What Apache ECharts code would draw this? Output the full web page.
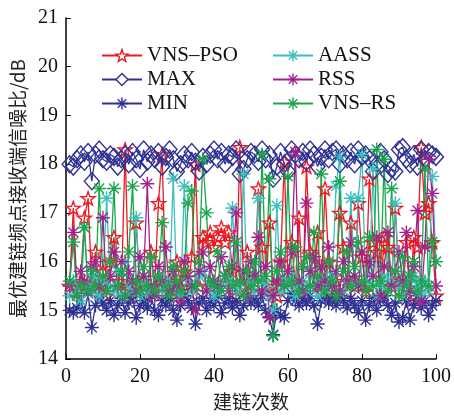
<!DOCTYPE html>
<html><head><meta charset="utf-8">
<script src="https://cdn.jsdelivr.net/npm/echarts@6/dist/echarts.min.js"></script>
<style>html,body{margin:0;padding:0;background:#fff}#c{width:454px;height:416px}</style>
</head><body><div id="c"></div>
<script>
const xValues = Array.from({length:100},(_,i)=>i+1);
const seriesNames = ['VNS–PSO','MAX','MIN','AASS','RSS','VNS–RS'];
const vnsPso = [15.5,17.1,15.4,15.6,16.9,17.3,15.5,16.2,15.4,15.8, 15.3,16.0,16.5,15.6,15.4,18.3,15.5,15.3,16.8,15.4, 15.6,15.3,16.2,15.5,17.2,18.2,15.4,15.6,15.3,16.0, 15.5,15.8,15.4,16.1,18.0,15.5,16.5,16.4,16.6,16.3, 16.5,16.7,16.4,16.6,15.8,15.3,18.35,15.5,16.2,15.4, 15.6,17.5,16.3,15.4,16.8,15.5,15.3,16.0,18.05,15.6, 16.4,15.5,16.9,15.3,17.95,16.2,15.5,16.6,15.4,17.5, 16.0,15.3,15.6,17.0,16.3,15.4,16.8,15.5,17.2,16.1, 15.4,17.7,16.4,16.2,15.3,16.5,16.3,15.5,17.1,15.6, 15.3,16.4,15.2,16.5,16.3,18.35,17.0,17.2,16.4,15.3];
const maxVals = [18.0,17.95,18.1,18.2,18.05,18.25,17.65,18.2,18.3,18.1, 18.05,18.2,18.15,17.95,18.1,18.2,18.0,18.25,18.1,17.9, 18.3,18.05,18.2,18.1,18.25,17.95,18.15,18.3,18.1,17.85, 18.0,18.2,18.1,18.25,18.05,17.85,18.15,18.0,18.2,18.3, 18.1,18.25,18.0,18.2,18.15,18.3,17.8,17.9,18.1,18.25, 18.2,18.05,18.3,18.1,18.2,17.7,17.95,18.25,18.0,17.85, 18.3,18.2,18.1,18.25,18.05,18.3,18.2,17.95,18.15,18.3, 18.1,18.25,18.3,18.0,18.2,18.1,18.25,18.0,18.3,18.15, 18.2,18.1,17.85,18.0,18.25,18.1,17.8,17.9,17.85,18.3, 18.35,18.1,18.0,18.2,17.95,18.3,18.1,18.25,18.2,18.15];
const minVals = [15.0,14.95,15.05,15.2,14.95,15.35,14.65,15.1,15.3,15.15, 15.0,15.2,14.9,15.1,15.25,14.95,15.15,15.3,14.85,15.1, 15.2,15.05,15.3,15.0,14.9,15.2,15.1,15.25,15.0,14.8, 15.1,15.3,15.2,15.05,14.72,15.15,15.25,15.0,15.2,15.1, 15.3,14.95,15.15,15.25,15.05,15.2,14.9,15.1,15.3,15.15, 15.25,15.1,15.3,15.0,14.85,14.5,15.0,14.9,14.85,15.2, 15.35,15.2,15.1,15.25,15.15,15.3,15.1,14.72,15.2,15.3, 15.15,15.25,15.1,15.3,15.2,15.05,15.25,15.1,14.95,15.2, 14.8,15.1,15.25,15.0,15.2,15.3,15.1,14.9,15.15,14.76, 14.85,15.2,14.8,15.1,15.3,15.05,15.2,14.9,15.1,15.2];
const aass = [15.3,15.6,15.4,15.2,16.7,15.5,15.4,15.7,15.3,15.6, 17.3,15.5,15.4,15.8,15.3,16.0,15.5,15.4,16.9,15.3, 15.6,15.4,15.5,15.3,15.7,15.4,15.6,15.5,17.7,15.4, 15.3,17.55,15.6,15.4,15.5,15.7,15.8,15.4,15.6,15.3, 15.5,15.4,15.7,15.6,17.1,15.4,15.5,17.8,15.3,15.6, 15.4,17.3,15.6,15.5,15.3,15.0,17.15,15.4,15.6,15.5, 15.7,15.3,15.5,15.6,15.4,15.8,15.5,15.3,15.6,15.4, 15.5,15.7,17.55,18.15,15.4,15.6,17.3,15.5,17.3,18.2, 15.4,15.6,17.9,15.3,15.5,15.7,15.4,15.6,17.2,15.5, 15.3,15.6,15.4,15.7,15.5,15.3,15.6,15.4,17.75,16.0];
const rss = [15.5,16.6,15.3,15.8,15.6,15.4,15.9,16.0,15.5,16.9, 15.4,15.7,16.2,15.5,16.0,15.3,15.8,15.6,15.4,16.1, 15.7,17.6,15.5,15.3,15.9,15.6,16.3,15.4,15.8,15.5, 15.2,16.0,15.7,15.5,15.0,15.8,16.2,15.4,15.9,15.6, 15.5,16.1,15.7,15.4,15.9,17.0,15.6,15.8,15.3,16.0, 15.7,16.5,15.4,15.9,14.87,15.3,15.6,16.0,15.5,15.8, 16.2,18.25,15.6,15.4,17.2,15.8,16.1,15.5,15.9,15.6, 16.3,15.5,15.8,15.4,16.0,15.6,16.4,15.7,15.5,16.2, 15.4,16.0,15.7,16.5,15.3,15.9,16.6,15.5,15.8,16.2, 15.6,16.6,15.4,15.9,17.05,15.2,16.3,18.1,17.4,15.5];
const vnsRs = [15.6,16.4,15.3,15.5,16.7,15.4,15.8,15.5,17.5,15.7, 15.4,16.0,17.5,15.5,15.8,15.3,16.2,17.55,15.6,15.4, 15.9,15.5,16.1,15.4,15.7,16.8,15.5,15.3,15.9,15.6, 15.4,15.8,17.2,17.45,15.5,16.0,18.1,17.0,15.6,15.5, 16.2,15.4,15.7,15.9,15.5,16.4,15.6,15.3,15.8,15.5, 16.0,15.6,18.2,15.7,17.7,14.48,15.8,16.2,15.5,17.75, 15.6,16.3,15.4,15.9,16.1,15.5,16.6,15.7,17.8,15.4, 16.0,15.6,15.3,17.65,15.8,16.2,15.5,15.9,16.4,15.6, 15.4,16.5,15.5,18.3,15.6,18.1,15.4,17.5,15.8,15.3, 16.1,15.5,15.7,16.0,15.4,15.6,17.9,15.5,16.4,16.0];
const xTicks = [0,20,40,60,80,100];
const yTicks = [14,15,16,17,18,19,20,21];

const STAR = 'path://M0,-10L2.35,-3.24L9.51,-3.09L3.8,1.24L5.88,8.09L0,4L-5.88,8.09L-3.8,1.24L-9.51,-3.09L-2.35,-3.24Z';
const AST = 'path://M0,-10L0,10M-10,0L10,0M-7.07,-7.07L7.07,7.07M-7.07,7.07L7.07,-7.07';
const SERIF = '"Liberation Serif","DejaVu Serif",serif';
const CJK = '"Noto Sans CJK SC",sans-serif';
const CLEAR = 'rgba(0,0,0,0)';

const colors = {red:'#f01820', blue:'#2e3192', cyan:'#3bbfbf', mag:'#a3218e', green:'#1aa64a'};
const seriesColors = [colors.red, colors.blue, colors.blue, colors.cyan, colors.mag, colors.green];

function mk(name, data, color, symbol, size) {
  return {
    name, type: 'line', data: xValues.map((x,i)=>[x,data[i]]),
    symbol, symbolSize: size, symbolKeepAspect: true,
    lineStyle: {color, width: 1.3},
    itemStyle: {color: CLEAR, borderColor: color, borderWidth: 1.4},
    emphasis: {disabled: true}, animation: false
  };
}
const series = [
  mk(seriesNames[0], vnsPso, colors.red, STAR, 14),
  mk(seriesNames[1], maxVals, colors.blue, 'diamond', [15,17]),
  mk(seriesNames[2], minVals, colors.blue, AST, 14),
  mk(seriesNames[3], aass, colors.cyan, AST, 14),
  mk(seriesNames[4], rss, colors.mag, AST, 14),
  mk(seriesNames[5], vnsRs, colors.green, AST, 14)
];
function legendData(idx) {
  return idx.map(i => ({name: seriesNames[i],
    itemStyle: {color: '#ffffff', borderColor: seriesColors[i], borderWidth: 1.4}}));
}
const legendCommon = {
  orient: 'vertical', top: 40, itemWidth: 40, itemHeight: 15, itemGap: 3,
  textStyle: {fontFamily: SERIF, fontSize: 21, color: '#111'},
  backgroundColor: 'transparent'
};
const chart = echarts.init(document.getElementById('c'));
chart.setOption({
  animation: false,
  backgroundColor: '#fff',
  grid: {left: 61, right: 17, top: 18, bottom: 50},
  legend: [
    Object.assign({left: 96, data: legendData([0,1,2])}, legendCommon),
    Object.assign({left: 267, data: legendData([3,4,5])}, legendCommon)
  ],
  xAxis: {
    type: 'value', min: xTicks[0], max: xTicks[xTicks.length-1], interval: 20,
    name: '建链次数', nameLocation: 'middle', nameGap: 30,
    nameTextStyle: {fontFamily: CJK, fontSize: 19, color: '#222', verticalAlign: 'top'},
    axisLine: {lineStyle: {color: '#000', width: 1.5}},
    axisTick: {inside: true, length: 5, lineStyle: {color: '#000'}},
    axisLabel: {fontFamily: SERIF, fontSize: 20, color: '#111', margin: 8},
    splitLine: {show: false}
  },
  yAxis: {
    type: 'value', min: yTicks[0], max: yTicks[yTicks.length-1], interval: 1,
    name: '最优建链频点接收端信噪比/dB', nameLocation: 'middle', nameGap: 34,
    nameTextStyle: {fontFamily: CJK, fontSize: 19, color: '#222'},
    axisLine: {lineStyle: {color: '#000', width: 1.5}},
    axisTick: {inside: true, length: 5, lineStyle: {color: '#000'}},
    axisLabel: {fontFamily: SERIF, fontSize: 20, color: '#111', margin: 8},
    splitLine: {show: false}
  },
  series
});
</script></body></html>
